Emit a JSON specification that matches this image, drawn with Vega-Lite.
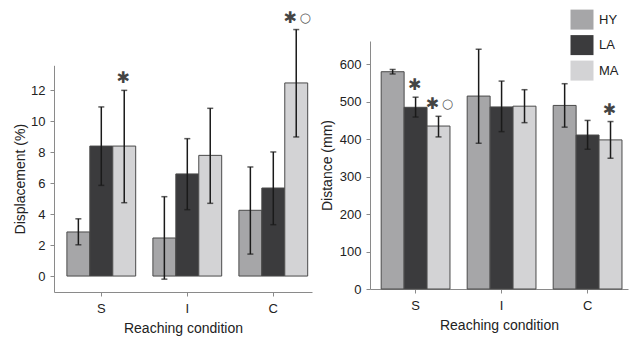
{
  "$schema": "https://vega.github.io/schema/vega-lite/v6.json",
  "padding": {"left": 13, "top": 9, "right": 3, "bottom": 4},
  "bounds": "flush",
  "spacing": 58,
  "datasets": {
    "disp": [
      {"cond": "S", "group": "HY", "mean": 2.85, "lo": 2.02, "hi": 3.7, "sig": ""},
      {"cond": "S", "group": "LA", "mean": 8.4, "lo": 5.86, "hi": 10.93, "sig": ""},
      {"cond": "S", "group": "MA", "mean": 8.4, "lo": 4.74, "hi": 12.0, "sig": "*"},
      {"cond": "I", "group": "HY", "mean": 2.46, "lo": -0.2, "hi": 5.13, "sig": ""},
      {"cond": "I", "group": "LA", "mean": 6.6, "lo": 4.29, "hi": 8.88, "sig": ""},
      {"cond": "I", "group": "MA", "mean": 7.8, "lo": 4.7, "hi": 10.84, "sig": ""},
      {"cond": "C", "group": "HY", "mean": 4.25, "lo": 1.42, "hi": 7.05, "sig": ""},
      {"cond": "C", "group": "LA", "mean": 5.69, "lo": 3.32, "hi": 8.02, "sig": ""},
      {"cond": "C", "group": "MA", "mean": 12.48, "lo": 8.99, "hi": 15.93, "sig": "*o"}
    ],
    "dist": [
      {"cond": "S", "group": "HY", "mean": 580, "lo": 574, "hi": 586, "sig": ""},
      {"cond": "S", "group": "LA", "mean": 485, "lo": 459, "hi": 512, "sig": "*"},
      {"cond": "S", "group": "MA", "mean": 435, "lo": 406, "hi": 461, "sig": "*o"},
      {"cond": "I", "group": "HY", "mean": 515, "lo": 389, "hi": 640, "sig": ""},
      {"cond": "I", "group": "LA", "mean": 486, "lo": 420, "hi": 555, "sig": ""},
      {"cond": "I", "group": "MA", "mean": 488, "lo": 444, "hi": 532, "sig": ""},
      {"cond": "C", "group": "HY", "mean": 490, "lo": 432, "hi": 548, "sig": ""},
      {"cond": "C", "group": "LA", "mean": 411, "lo": 373, "hi": 450, "sig": ""},
      {"cond": "C", "group": "MA", "mean": 398, "lo": 349, "hi": 447, "sig": "*"}
    ]
  },
  "hconcat": [
    {
      "width": 258,
      "height": 251,
      "data": {"name": "disp"},
      "encoding": {
        "x": {"field": "cond", "type": "nominal", "sort": ["S", "I", "C"], "title": "Reaching condition",
              "scale": {"paddingInner": 0.2, "paddingOuter": 0.1, "align": 0.75}},
        "xOffset": {"field": "group", "type": "nominal", "sort": ["HY", "LA", "MA"], "scale": {"paddingInner": 0, "paddingOuter": 0}}
      },
      "layer": [
        {
          "mark": {"type": "bar", "stroke": "#4a4a4a", "strokeWidth": 1},
          "encoding": {
            "y": {"field": "mean", "type": "quantitative", "title": "Displacement (%)",
                  "scale": {"domain": [-1.03, 13.62], "range": [251, 24.3], "nice": false, "zero": false},
                  "axis": {"values": [0, 2, 4, 6, 8, 10, 12], "titlePadding": 3}},
            "y2": {"datum": 0},
            "color": {"field": "group", "type": "nominal", "scale": {"domain": ["HY", "LA", "MA"], "range": ["#a6a6a8", "#3b3b3d", "#d3d3d5"]}, "legend": null}
          }
        },
        {
          "mark": {"type": "rule", "color": "#1a1a1a", "strokeWidth": 1.5},
          "encoding": {
            "y": {"field": "lo", "type": "quantitative", "title": "Displacement (%)"},
            "y2": {"field": "hi"}
          }
        },
        {
          "transform": [{"fold": ["lo", "hi"], "as": ["end", "val"]}],
          "mark": {"type": "tick", "color": "#1a1a1a", "thickness": 1.5, "size": 6},
          "encoding": {
            "y": {"field": "val", "type": "quantitative", "title": "Displacement (%)"}
          }
        },
        {
          "transform": [{"filter": "datum.sig === '*'"}],
          "mark": {"type": "text", "text": "✱", "font": "DejaVu Sans", "fontSize": 16, "color": "#444", "baseline": "middle", "dy": -12, "dx": -1},
          "encoding": {"y": {"field": "hi", "type": "quantitative", "title": "Displacement (%)"}}
        },
        {
          "transform": [{"filter": "datum.sig === '*o'"}],
          "mark": {"type": "text", "text": "✱", "font": "DejaVu Sans", "fontSize": 16, "color": "#444", "baseline": "middle", "dy": -12, "dx": -6},
          "encoding": {"y": {"field": "hi", "type": "quantitative", "title": "Displacement (%)"}}
        },
        {
          "transform": [{"filter": "datum.sig === '*o'"}],
          "mark": {"type": "text", "text": "○", "font": "DejaVu Sans", "fontSize": 13, "color": "#555", "baseline": "middle", "dy": -12, "dx": 9},
          "encoding": {"y": {"field": "hi", "type": "quantitative", "title": "Displacement (%)"}}
        }
      ]
    },
    {
      "width": 258,
      "height": 248,
      "data": {"name": "dist"},
      "encoding": {
        "x": {"field": "cond", "type": "nominal", "sort": ["S", "I", "C"], "title": "Reaching condition",
              "scale": {"paddingInner": 0.2, "paddingOuter": 0.1, "align": 0.65}},
        "xOffset": {"field": "group", "type": "nominal", "sort": ["HY", "LA", "MA"], "scale": {"paddingInner": 0, "paddingOuter": 0}}
      },
      "layer": [
        {
          "mark": {"type": "bar", "stroke": "#4a4a4a", "strokeWidth": 1},
          "encoding": {
            "y": {"field": "mean", "type": "quantitative", "title": "Distance (mm)",
                  "scale": {"domain": [0, 662], "nice": false, "zero": false},
                  "axis": {"values": [0, 100, 200, 300, 400, 500, 600], "titlePadding": 5}},
            "y2": {"datum": 0},
            "color": {"field": "group", "type": "nominal", "scale": {"domain": ["HY", "LA", "MA"], "range": ["#a6a6a8", "#3b3b3d", "#d3d3d5"]},
                      "legend": {"orient": "none", "legendX": 202, "legendY": -31.4, "title": null,
                                 "symbolType": "M-1.15,-1H1.15V1H-1.15Z", "symbolSize": 400, "symbolStrokeWidth": 0,
                                 "rowPadding": 5.5, "labelOffset": 7, "labelFontSize": 13, "labelFont": "Liberation Sans",
                                 "labelColor": "#222", "padding": 0, "symbolOpacity": 1}}
          }
        },
        {
          "mark": {"type": "rule", "color": "#1a1a1a", "strokeWidth": 1.5},
          "encoding": {
            "y": {"field": "lo", "type": "quantitative", "title": "Distance (mm)"},
            "y2": {"field": "hi"}
          }
        },
        {
          "transform": [{"fold": ["lo", "hi"], "as": ["end", "val"]}],
          "mark": {"type": "tick", "color": "#1a1a1a", "thickness": 1.5, "size": 6},
          "encoding": {
            "y": {"field": "val", "type": "quantitative", "title": "Distance (mm)"}
          }
        },
        {
          "transform": [{"filter": "datum.sig === '*'"}],
          "mark": {"type": "text", "text": "✱", "font": "DejaVu Sans", "fontSize": 16, "color": "#444", "baseline": "middle", "dy": -12, "dx": -1},
          "encoding": {"y": {"field": "hi", "type": "quantitative", "title": "Distance (mm)"}}
        },
        {
          "transform": [{"filter": "datum.sig === '*o'"}],
          "mark": {"type": "text", "text": "✱", "font": "DejaVu Sans", "fontSize": 16, "color": "#444", "baseline": "middle", "dy": -12, "dx": -6},
          "encoding": {"y": {"field": "hi", "type": "quantitative", "title": "Distance (mm)"}}
        },
        {
          "transform": [{"filter": "datum.sig === '*o'"}],
          "mark": {"type": "text", "text": "○", "font": "DejaVu Sans", "fontSize": 13, "color": "#555", "baseline": "middle", "dy": -12, "dx": 9},
          "encoding": {"y": {"field": "hi", "type": "quantitative", "title": "Distance (mm)"}}
        }
      ]
    }
  ],
  "resolve": {
    "scale": {"x": "independent", "y": "independent", "xOffset": "independent", "color": "independent"},
    "axis": {"x": "independent", "y": "independent"},
    "legend": {"color": "independent"}
  },
  "config": {
    "view": {"stroke": null},
    "axis": {
      "labelFont": "Liberation Sans", "labelFontSize": 13, "labelColor": "#222",
      "titleFont": "Liberation Sans", "titleFontSize": 14, "titleFontWeight": "normal", "titleColor": "#222",
      "domainColor": "#8a8a8a", "tickColor": "#8a8a8a", "grid": false
    },
    "axisX": {"labelAngle": 0, "tickSize": 4, "labelPadding": 6, "titlePadding": 6},
    "axisY": {"tickSize": 4, "labelPadding": 5}
  }
}
